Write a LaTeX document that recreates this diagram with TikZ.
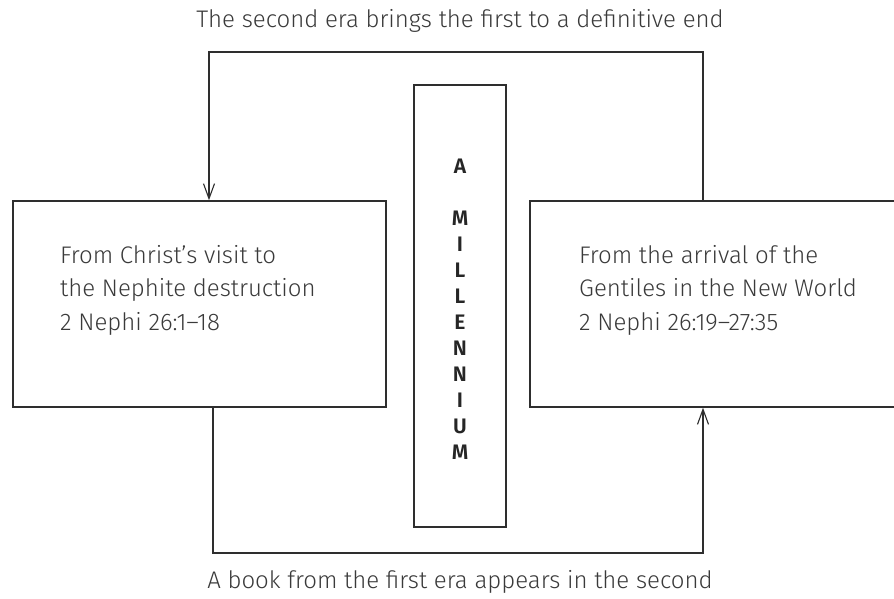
\documentclass[tikz,border=0pt]{standalone}
\usepackage{fontspec}
\setmainfont{Fira Sans}[UprightFont=* Light, BoldFont=* SemiBold]
\usetikzlibrary{arrows.meta}
\definecolor{ink}{HTML}{3A3A3A}
\definecolor{linec}{HTML}{2E2E2E}
\tikzset{
  x=1pt, y=-1pt,
  box/.style={draw=linec, line width=1.5pt, inner sep=0pt},
  lbl/.style={text=ink, font=\fontsize{24}{28}\selectfont, inner sep=0pt},
  boxtext/.style={text=ink, font=\fontsize{24}{33.5}\selectfont, align=left, inner sep=0pt, anchor=west},
  conn/.style={draw=linec, line width=1.3pt},
  arr/.style={conn, -{Straight Barb[length=15pt, width=11pt, line width=1.1pt]}}
}
\begin{document}
\begin{tikzpicture}
\clip (0,0) rectangle (894,598);
\fill[white] (0,0) rectangle (894,598);
% boxes
\node[box, minimum width=373pt, minimum height=206pt] (lb) at (199.5,304) {};
\node[box, minimum width=372pt, minimum height=206pt] (rb) at (716,304) {};
\node[box, minimum width=92pt, minimum height=442pt] (mb) at (460,306) {};
% texts
\node[boxtext] (lt) at (60,290) {From Christ’s visit to\\the Nephite destruction\\2 Nephi 26:1–18};
\node[boxtext] (rt) at (579,290) {From the arrival of the\\Gentiles in the New World\\2 Nephi 26:19–27:35};
\node[text=black!85, font=\fontsize{21}{26}\selectfont\bfseries, align=center, inner sep=0pt] (mt) at (460,309.5)
  {A\\[26pt]M\\I\\L\\L\\E\\N\\N\\I\\U\\M};
\node[lbl] (top) at (460,21) {The second era brings the first to a definitive end};
\node[lbl] (bot) at (460,582) {A book from the first era appears in the second};
% connectors
\coordinate (tl) at (209,52);
\coordinate (tr) at (703,52);
\coordinate (bl) at (213,553);
\coordinate (br) at (703,553);
\draw[arr] (rb.north -| tr) -- (tr) -- (tl) -- (lb.north -| tl);
\draw[arr] (lb.south -| bl) -- (bl) -- (br) -- (rb.south -| br);
\end{tikzpicture}
\end{document}
